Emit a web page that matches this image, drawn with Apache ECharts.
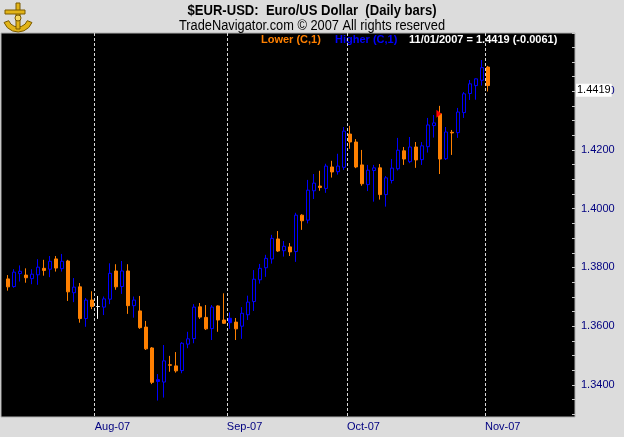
<!DOCTYPE html>
<html><head><meta charset="utf-8">
<script src="https://cdn.jsdelivr.net/npm/echarts@6/dist/echarts.min.js"></script>
<style>html,body{margin:0;padding:0;background:#dcdcdc;}#c{width:624px;height:437px;}</style>
</head><body><div id="c"></div>
<script>
// ---- data ----
const dates = [
 '07/11/2007','07/12/2007','07/13/2007','07/16/2007','07/17/2007','07/18/2007','07/19/2007','07/20/2007','07/23/2007','07/24/2007',
 '07/25/2007','07/26/2007','07/27/2007','07/30/2007','07/31/2007',
 '08/01/2007','08/02/2007','08/03/2007','08/06/2007','08/07/2007','08/08/2007','08/09/2007','08/10/2007','08/13/2007','08/14/2007',
 '08/15/2007','08/16/2007','08/17/2007','08/20/2007','08/21/2007','08/22/2007','08/23/2007','08/24/2007','08/28/2007','08/29/2007',
 '08/30/2007','08/31/2007',
 '09/03/2007','09/04/2007','09/05/2007','09/06/2007','09/07/2007','09/10/2007','09/11/2007','09/12/2007','09/13/2007','09/14/2007',
 '09/17/2007','09/18/2007','09/19/2007','09/20/2007','09/21/2007','09/24/2007','09/25/2007','09/26/2007','09/27/2007','09/28/2007',
 '10/01/2007','10/02/2007','10/03/2007','10/04/2007','10/05/2007','10/08/2007','10/09/2007','10/10/2007','10/11/2007','10/12/2007',
 '10/15/2007','10/16/2007','10/17/2007','10/18/2007','10/19/2007','10/22/2007','10/23/2007','10/24/2007','10/25/2007','10/26/2007',
 '10/29/2007','10/30/2007','10/31/2007',
 '11/01/2007'
];
const emptyDates = ['11/02/2007','11/05/2007','11/06/2007','11/07/2007','11/08/2007','11/09/2007','11/12/2007','11/13/2007',
 '11/14/2007','11/15/2007','11/16/2007','11/19/2007','11/20/2007','11/21/2007'];
const opens = [
 1.3761,1.3735,1.3779,1.3774,1.3762,1.3775,1.3797,1.3794,1.3829,1.3796,
 1.3822,1.3714,1.3734,1.3626,1.3689,1.3667,1.3665,1.3692,1.3788,1.3735,
 1.3788,1.3670,1.3652,1.3597,1.3526,1.3418,1.3410,1.3469,1.3465,1.3449,
 1.3539,1.3558,1.3666,1.3630,1.3592,1.3669,1.3621,1.3627,1.3614,1.3600,
 1.3639,1.3684,1.3758,1.3799,1.3829,1.3897,1.3857,1.3870,1.3854,1.3978,
 1.3961,1.4061,1.4077,1.4069,1.4142,1.4126,1.4141,1.4254,1.4227,1.4149,
 1.4082,1.4130,1.4139,1.4048,1.4096,1.4136,1.4197,1.4160,1.4210,1.4167,
 1.4211,1.4283,1.4323,1.4170,1.4260,1.4259,1.4327,1.4392,1.4419,1.4437,
 1.4482
];
const highs = [
 1.3774,1.3794,1.3807,1.3797,1.3794,1.3828,1.3826,1.3839,1.3839,1.3846,
 1.3826,1.3764,1.3747,1.3696,1.3719,1.3703,1.3701,1.3814,1.3811,1.3822,
 1.3811,1.3701,1.3703,1.3618,1.3529,1.3437,1.3536,1.3499,1.3512,1.3546,
 1.3581,1.3675,1.3679,1.3672,1.3672,1.3671,1.3712,1.3647,1.3628,1.3665,
 1.3704,1.3791,1.3812,1.3843,1.3911,1.3924,1.3890,1.3883,1.3986,1.3981,
 1.4098,1.4118,1.4129,1.4153,1.4163,1.4187,1.4278,1.4282,1.4237,1.4200,
 1.4149,1.4149,1.4152,1.4111,1.4169,1.4241,1.4210,1.4244,1.4227,1.4227,
 1.4309,1.4319,1.4350,1.4278,1.4268,1.4343,1.4397,1.4438,1.4443,1.4506,
 1.4486
];
const lows = [
 1.3721,1.3731,1.3752,1.3748,1.3743,1.3741,1.3772,1.3767,1.3786,1.3786,
 1.3686,1.3682,1.3612,1.3598,1.3658,1.3625,1.3638,1.3675,1.3724,1.3710,
 1.3642,1.3629,1.3591,1.3519,1.3403,1.3347,1.3357,1.3445,1.3442,1.3440,
 1.3525,1.3542,1.3625,1.3587,1.3553,1.3581,1.3608,1.3591,1.3553,1.3557,
 1.3621,1.3652,1.3745,1.3768,1.3813,1.3853,1.3837,1.3839,1.3819,1.3928,
 1.3950,1.4033,1.4061,1.4054,1.4106,1.4116,1.4132,1.4204,1.4138,1.4078,
 1.4060,1.4024,1.4031,1.4007,1.4086,1.4130,1.4149,1.4155,1.4139,1.4149,
 1.4191,1.4242,1.4118,1.4166,1.4183,1.4241,1.4309,1.4370,1.4371,1.4419,
 1.4399
];
const closes = [
 1.3734,1.3784,1.3787,1.3765,1.3777,1.3801,1.3790,1.3821,1.3798,1.3821,
 1.3717,1.3733,1.3626,1.3689,1.3667,1.3667,1.3693,1.3780,1.3734,1.3788,
 1.3670,1.3689,1.3595,1.3523,1.3409,1.3412,1.3482,1.3467,1.3448,1.3542,
 1.3557,1.3665,1.3631,1.3591,1.3665,1.3621,1.3610,1.3612,1.3591,1.3644,
 1.3682,1.3760,1.3797,1.3831,1.3899,1.3856,1.3872,1.3853,1.3978,1.3959,
 1.4063,1.4087,1.4072,1.4145,1.4125,1.4145,1.4264,1.4227,1.4142,1.4085,
 1.4131,1.4139,1.4048,1.4105,1.4138,1.4199,1.4169,1.4210,1.4166,1.4214,
 1.4285,1.4292,1.4169,1.4261,1.4258,1.4329,1.4391,1.4425,1.4442,1.4480,
 1.4419
];
const flagMarks = [{date: '10/22/2007', price: 1.4323}];
const priceRange = [1.3291, 1.4598];
const labelStep = 0.02;
const minorStep = 0.005;
const monthNames = ['Jan','Feb','Mar','Apr','May','Jun','Jul','Aug','Sep','Oct','Nov','Dec'];

// ---- styles ----
const UP = '#0000ff', DOWN = '#ff8000', SAME = '#ffffff';
const NAVY = '#000080';
const FONT = '"Liberation Sans", Arial, sans-serif';

const axisDates = dates.concat(emptyDates);
const monthOf = s => s.slice(0, 2);
const isMonthStart = (i) => i > 0 && monthOf(axisDates[i]) !== monthOf(axisDates[i - 1]);
const monthLabel = s => monthNames[parseInt(s.slice(0, 2), 10) - 1] + '-' + s.slice(8, 10);

const candleData = dates.map((d, i) => {
  const prev = i > 0 ? closes[i - 1] : opens[i];
  const col = closes[i] > prev ? UP : (closes[i] < prev ? DOWN : SAME);
  const fill = closes[i] > opens[i] ? '#000000' : col;
  return {
    value: [opens[i], closes[i], lows[i], highs[i]],
    itemStyle: {color: fill, color0: fill, borderColor: col, borderColor0: col, borderColorDoji: col}
  };
});

const last = dates.length - 1;
const change = closes[last] - closes[last - 1];
const infoText = dates[last] + ' = ' + closes[last].toFixed(4) + ' (' + (change >= 0 ? '+' : '') + change.toFixed(4) + ')';

const isMultiple = (v, step) => Math.abs(v / step - Math.round(v / step)) < 1e-6;

// horizontal squeeze so the header fonts match the narrow face of the original
const measureCtx = document.createElement('canvas').getContext('2d');
function fitScale(text, font, width) {
  measureCtx.font = font;
  return width / measureCtx.measureText(text).width;
}
const titleText = '$EUR-USD:  Euro/US Dollar  (Daily bars)';
const subText = 'TradeNavigator.com \u00a9 2007 All rights reserved';
const titleFont = 'bold 14px ' + FONT;
const subFont = '14px ' + FONT;

const chart = echarts.init(document.getElementById('c'), null, {renderer: 'canvas'});
const gold = '#e2b418', goldDark = '#7a5a00';
chart.setOption({
  animation: false,
  backgroundColor: '#dcdcdc',
  grid: [
    {left: 1, right: 49, top: 33, bottom: 20, show: true, backgroundColor: '#000000', borderColor: '#b0b0b0', borderWidth: 1, outerBoundsMode: 'none'},
    {left: 4.7, right: 49, top: 33, bottom: 20, show: false, outerBoundsMode: 'none'}
  ],
  xAxis: [
    {gridIndex: 0, type: 'value', show: false, min: 0, max: 1},
    {gridIndex: 1, type: 'category', data: axisDates, boundaryGap: true,
     axisLine: {show: false}, axisTick: {show: false},
     splitLine: {show: true, interval: isMonthStart, showMinLine: true, showMaxLine: false,
       lineStyle: {color: '#d8d8d8', width: 1, type: [3, 2]}},
     axisLabel: {interval: isMonthStart, formatter: monthLabel, align: 'left', padding: [0, 0, 0, -3],
       margin: 4, color: NAVY, fontSize: 11, fontFamily: FONT}}
  ],
  yAxis: [
    {gridIndex: 0, type: 'value', position: 'right', min: priceRange[0], max: priceRange[1],
     splitNumber: 6, minInterval: labelStep, maxInterval: labelStep, scale: true,
     axisLine: {show: false}, splitLine: {show: false},
     axisTick: {show: true, inside: true, length: 8, lineStyle: {color: '#c8c8c8'}},
     axisLabel: {margin: 6, color: NAVY, fontSize: 11, fontFamily: FONT, showMinLabel: false, showMaxLabel: false,
       formatter: v => isMultiple(v, labelStep) ? v.toFixed(4) : ''}},
    {gridIndex: 0, type: 'value', position: 'right', min: priceRange[0], max: priceRange[1],
     splitNumber: 26, minInterval: minorStep, maxInterval: minorStep, scale: true,
     axisLine: {show: false}, splitLine: {show: false}, axisLabel: {show: false},
     axisTick: {show: true, inside: true, length: 3, lineStyle: {color: '#c8c8c8'}}},
    {gridIndex: 1, type: 'value', min: priceRange[0], max: priceRange[1], show: false, scale: true}
  ],
  series: [{
    type: 'candlestick', xAxisIndex: 1, yAxisIndex: 2, barWidth: 3.5, clip: false,
    itemStyle: {borderWidth: 1},
    emphasis: {disabled: true},
    data: candleData,
    markLine: {
      silent: true, symbol: ['none', 'none'], animation: false, z: 10,
      lineStyle: {color: 'rgba(0,0,0,0)', width: 0},
      label: {show: true, position: 'end', distance: 1, offset: [0, -1], formatter: () => closes[last].toFixed(4),
        color: '#000', backgroundColor: '#ffffff', padding: [1, 1, 1, 1], lineHeight: 11, fontSize: 11, fontFamily: FONT},
      emphasis: {disabled: true},
      data: [{yAxis: closes[last]}]
    },
    markPoint: {
      silent: true, animation: false,
      data: flagMarks.map(m => ({coord: [m.date, m.price], symbol: 'triangle', symbolSize: [8, 5],
        symbolRotate: -90, symbolOffset: [-1, 0], itemStyle: {color: '#ff0000'}, label: {show: false}}))
    }
  }],
  graphic: [
    {type: 'text', x: 312, y: 11, scaleX: fitScale(titleText, titleFont, 249),
     style: {x: 0, y: 0, text: titleText, align: 'center', verticalAlign: 'middle', font: titleFont, fill: '#000'}},
    {type: 'text', x: 312, y: 26, scaleX: fitScale(subText, subFont, 266),
     style: {x: 0, y: 0, text: subText, align: 'center', verticalAlign: 'middle', font: subFont, fill: '#000'}},
    {type: 'text', style: {x: 261, y: 40, text: 'Lower (C,1)', align: 'left', verticalAlign: 'middle', font: 'bold 11px ' + FONT, fill: DOWN}},
    {type: 'text', style: {x: 335, y: 40, text: 'Higher (C,1)', align: 'left', verticalAlign: 'middle', font: 'bold 11px ' + FONT, fill: UP}},
    {type: 'text', style: {x: 409, y: 40, text: infoText, align: 'left', verticalAlign: 'middle', font: 'bold 11px ' + FONT, fill: '#ffffff'}},
    {type: 'group', x: 2, y: 2, children: [
      {type: 'sector', shape: {cx: 16, cy: 15, r: 15, r0: 10, startAngle: Math.PI * 0.12, endAngle: Math.PI * 0.88},
       style: {fill: gold, stroke: goldDark, lineWidth: 1}},
      {type: 'rect', shape: {x: 14, y: 1, width: 4, height: 26}, style: {fill: gold, stroke: goldDark, lineWidth: 1}},
      {type: 'rect', shape: {x: 3, y: 8, width: 20, height: 4}, style: {fill: gold, stroke: goldDark, lineWidth: 1}},
      {type: 'circle', shape: {cx: 16, cy: 16, r: 3}, style: {fill: '#f5d860', stroke: goldDark, lineWidth: 1}}
    ]}
  ]
});
</script>
</body></html>
